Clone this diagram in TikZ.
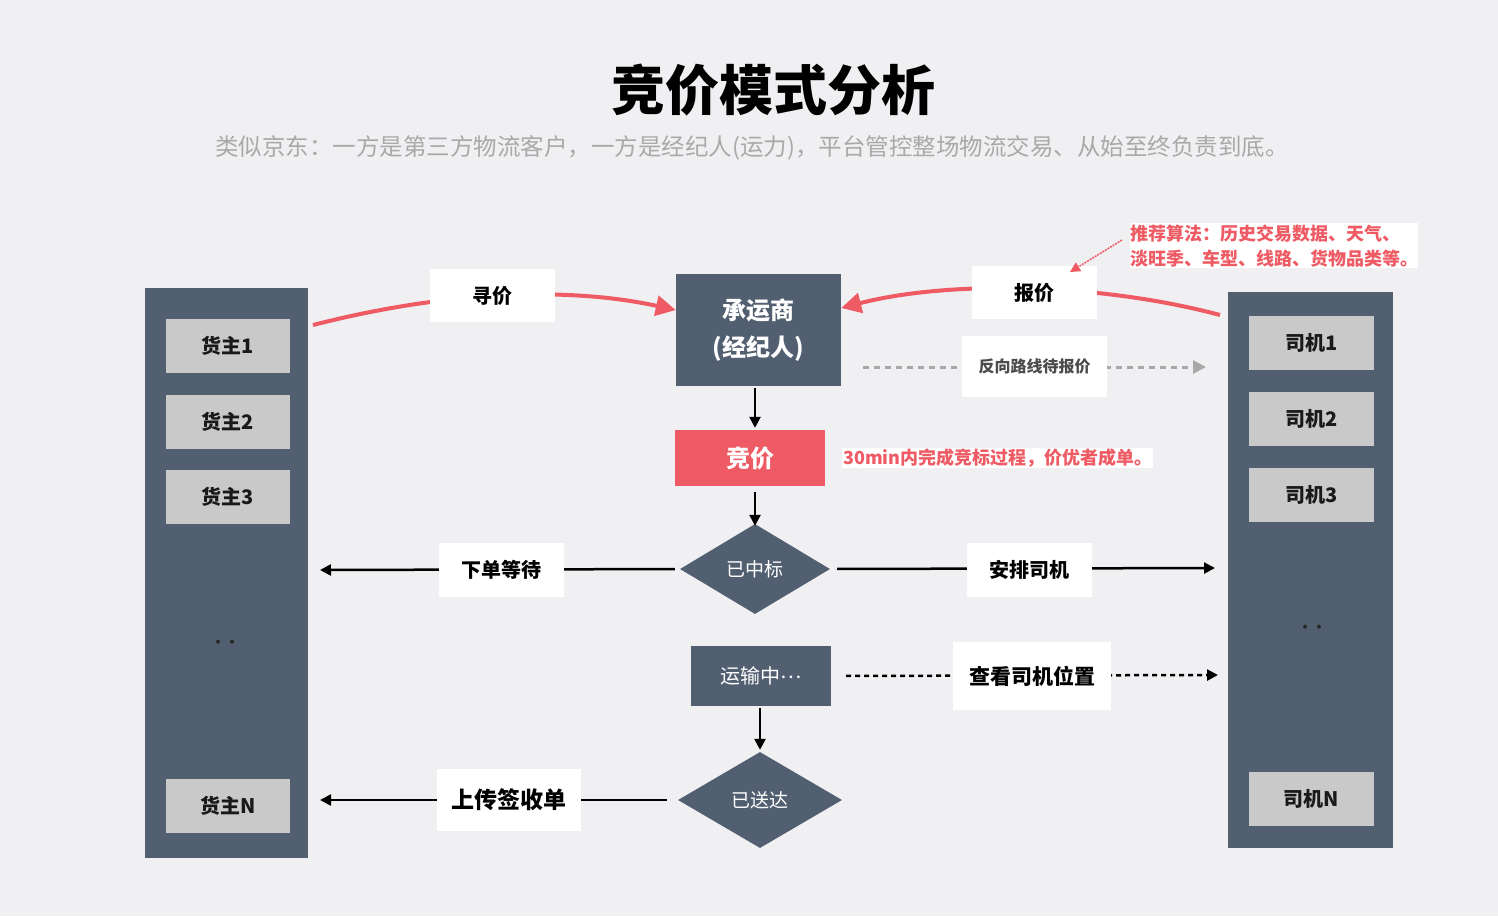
\documentclass[tikz,border=0pt]{standalone}
\usepackage{fontspec}
\setmainfont{Noto Sans CJK SC}
\usetikzlibrary{arrows.meta,shapes.geometric}
\definecolor{bg}{HTML}{F0EFF2}
\definecolor{slate}{HTML}{525F71}
\definecolor{accent}{HTML}{EE5B64}
\definecolor{cellc}{HTML}{C9C9C9}
\definecolor{subc}{HTML}{A9A9A9}
\definecolor{dashc}{HTML}{A8A8A8}
\newcommand{\fs}[1]{\fontsize{#1}{#1}\selectfont}
\begin{document}
\begin{tikzpicture}[x=1pt,y=-1pt,
  column/.style={fill=slate,inner sep=0},
  cellbox/.style={fill=cellc,inner sep=0,minimum width=124,minimum height=54,font=\fs{20}\bfseries,text=black!90},
  lbl/.style={fill=white,inner sep=0,font=\fs{20}\bfseries,text=black},
  darkbox/.style={fill=slate,inner sep=0,text=white},
  dia/.style={diamond,fill=slate,inner sep=0,text=white,font=\fs{19}},
  arr/.style={line width=2.5pt,-{Triangle[length=11pt,width=11pt]}},
  dotarr/.style={line width=2.5pt,dash pattern=on 5pt off 4pt,-{Triangle[length=11pt,width=11pt]}},
  grayarr/.style={line width=3pt,dashc,dash pattern=on 6pt off 5pt,-{Triangle[length=13pt,width=13pt]}},
  redarr/.style={line width=4pt,accent,-{Triangle[length=20pt,width=20pt]}},
  dotsn/.style={text=black!85,font=\fs{14}\bfseries,inner sep=0}
]
\fill[bg] (0,0) rectangle (1498,916);
\useasboundingbox (0,0) rectangle (1498,916);

% title
\node[font=\fs{54}\bfseries,text=black] (title) at (773,90) {竞价模式分析};
\node[font=\fs{23.5},text=subc] (subtitle) at (752,148) {类似京东：一方是第三方物流客户，一方是经纪人(运力)，平台管控整场物流交易、从始至终负责到底。};

% columns
\node[column,minimum width=163,minimum height=570] (colL) at (226.5,573) {};
\node[column,minimum width=165,minimum height=556] (colR) at (1310.5,570) {};

\node[cellbox] (o1) at (228,346) {货主1};
\node[cellbox] (o2) at (228,421.5) {货主2};
\node[cellbox] (o3) at (228,496.5) {货主3};
\node[cellbox] (oN) at (228,805.5) {货主N};
\node[dotsn] (odots) at (225,644) {··};

\node[cellbox,minimum width=125] (d1) at (1311.5,343) {司机1};
\node[cellbox,minimum width=125] (d2) at (1311.5,419) {司机2};
\node[cellbox,minimum width=125] (d3) at (1311.5,495) {司机3};
\node[cellbox,minimum width=125] (dN) at (1311.5,799) {司机N};
\node[dotsn] (ddots) at (1312,629) {··};

% center flow
\node[darkbox,minimum width=165,minimum height=112,font=\fs{24}\bfseries,align=center] (carrier) at (758.5,330) {承运商\\[13pt](经纪人)};
\node[fill=accent,inner sep=0,minimum width=150,minimum height=56,text=white,font=\fs{24}\bfseries] (bid) at (750,458) {竞价};
\node[dia,minimum width=150,minimum height=90] (won) at (755,569) {已中标};
\node[darkbox,minimum width=140,minimum height=60,font=\fs{20}] (transit) at (761,676) {运输中\raisebox{5.5pt}{…}};
\node[dia,minimum width=164,minimum height=96] (deliv) at (760,800) {已送达};

% notes
\node[fill=white,inner sep=1pt,anchor=west,text=accent,font=\fs{18}\bfseries] (note) at (842,458) {30min内完成竞标过程，价优者成单。};
\node[fill=white,inner sep=0,anchor=north west,minimum width=283,minimum height=45,text=accent,font=\fs{18}\bfseries,align=left] (algo) at (1130,223) {推荐算法：历史交易数据、天气、\\[7pt]淡旺季、车型、线路、货物品类等。};

% coordinates for free ends
\coordinate (cL) at (313,325);
\coordinate (cR) at (1220,315);
\coordinate (gs) at (863,367);
\coordinate (ge) at (1206,367);
\coordinate (wonL) at (320,570);
\coordinate (wonR) at (1215,568);
\coordinate (trR) at (1218,675);
\coordinate (delL) at (320,800);
\coordinate (algoEnd) at (1070,272);

% connectors
\draw[redarr] (cL) .. controls (450,290) and (570,287) .. ([yshift=20pt]carrier.west);
\draw[redarr] (cR) .. controls (1100,283) and (950,280) .. ([yshift=22pt]carrier.east);
\draw[grayarr] (gs) -- (ge);
\draw[arr,shorten <=2pt,shorten >=2pt] (carrier.south -| won) -- (bid.north -| won);
\draw[arr,shorten <=6pt,shorten >=-2pt] (bid.south -| won) -- (won.north);
\draw[arr,shorten <=5pt] (won.west) -- (wonL);
\draw[arr,shorten <=7pt] (won.east) -- (wonR);
\draw[dotarr,shorten <=15pt] (transit.east) -- (trR);
\draw[arr,shorten <=2pt,shorten >=2pt] (transit.south -| deliv) -- (deliv.north);
\draw[arr,shorten <=11pt] (deliv.west) -- (delL);

% labels on connectors
\node[lbl,minimum width=125,minimum height=53] (xunjia) at (492.5,295.5) {寻价};
\node[lbl,minimum width=125,minimum height=53] (baojia) at (1034.5,292.5) {报价};
\node[lbl,minimum width=145,minimum height=61,font=\fs{16}\bfseries,text=black!70] (fanxiang) at (1034.5,366.5) {反向路线待报价};
\node[lbl,minimum width=125,minimum height=54] (xiadan) at (501.5,570) {下单等待};
\node[lbl,minimum width=125,minimum height=54] (anpai) at (1029.5,570) {安排司机};
\node[lbl,minimum width=158,minimum height=68,font=\fs{21}\bfseries] (chakan) at (1032,676) {查看司机位置};
\node[lbl,minimum width=144,minimum height=62,font=\fs{23}\bfseries] (shangchuan) at (509,800) {上传签收单};

% annotation pointer (on top)
\draw[accent,line width=1.5pt,dash pattern=on 2pt off 1pt,-{Triangle[length=10pt,width=10pt]}] ([xshift=-8pt,yshift=-17pt]algo.north west) -- (algoEnd);
\end{tikzpicture}
\end{document}
